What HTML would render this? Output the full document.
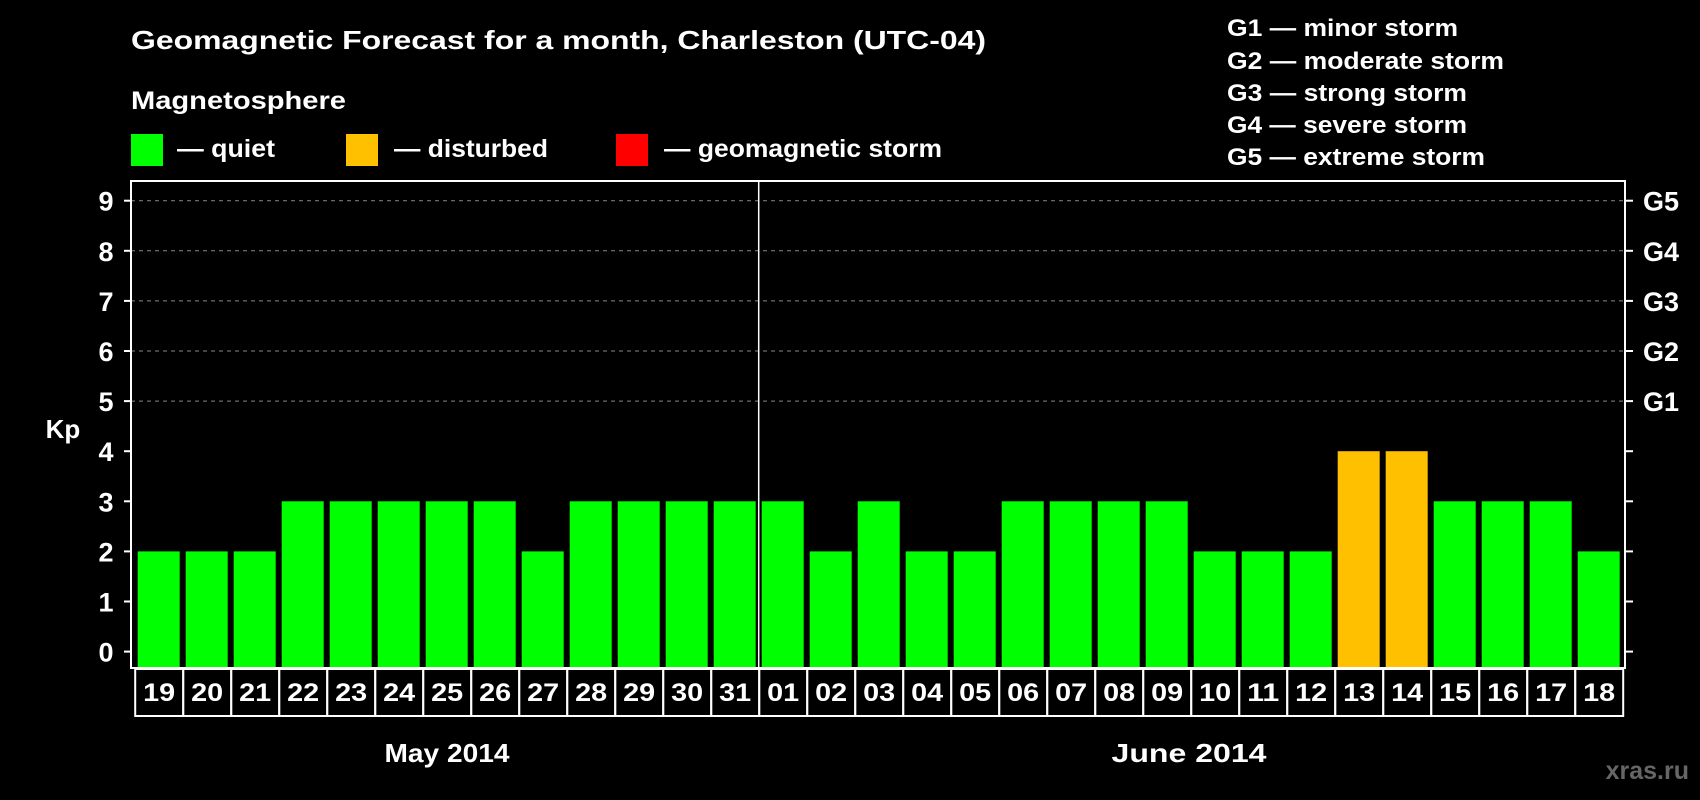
<!DOCTYPE html>
<html><head><meta charset="utf-8"><style>
html,body{margin:0;padding:0;background:#000;}
svg{display:block;font-family:"Liberation Sans",sans-serif;font-weight:bold;}
</style></head><body>
<svg id="chart" width="1700" height="800" viewBox="0 0 1700 800" xmlns="http://www.w3.org/2000/svg">
<rect x="0" y="0" width="1700" height="800" fill="#000"/>
<text x="131" y="49" fill="#fff" font-size="26" textLength="855" lengthAdjust="spacingAndGlyphs">Geomagnetic Forecast for a month, Charleston (UTC-04)</text>
<text x="131" y="109" fill="#fff" font-size="25" textLength="215" lengthAdjust="spacingAndGlyphs">Magnetosphere</text>
<rect x="131" y="134" width="32" height="32" fill="#00ff00"/>
<text x="177" y="157" fill="#fff" font-size="25" textLength="98" lengthAdjust="spacingAndGlyphs">— quiet</text>
<rect x="346" y="134" width="32" height="32" fill="#ffc000"/>
<text x="394" y="157" fill="#fff" font-size="25" textLength="154" lengthAdjust="spacingAndGlyphs">— disturbed</text>
<rect x="616" y="134" width="32" height="32" fill="#ff0000"/>
<text x="664" y="157" fill="#fff" font-size="25" textLength="278" lengthAdjust="spacingAndGlyphs">— geomagnetic storm</text>
<g fill="#fff" font-size="24">
<text x="1227" y="36" textLength="231" lengthAdjust="spacingAndGlyphs">G1 — minor storm</text>
<text x="1227" y="69" textLength="277" lengthAdjust="spacingAndGlyphs">G2 — moderate storm</text>
<text x="1227" y="101" textLength="240" lengthAdjust="spacingAndGlyphs">G3 — strong storm</text>
<text x="1227" y="133" textLength="240" lengthAdjust="spacingAndGlyphs">G4 — severe storm</text>
<text x="1227" y="165" textLength="258" lengthAdjust="spacingAndGlyphs">G5 — extreme storm</text>
</g>
<text x="63" y="438" fill="#fff" font-size="26" text-anchor="middle">Kp</text>
<text x="447" y="762" fill="#fff" font-size="26" text-anchor="middle" textLength="125" lengthAdjust="spacingAndGlyphs">May 2014</text>
<text x="1189" y="762" fill="#fff" font-size="26" text-anchor="middle" textLength="155" lengthAdjust="spacingAndGlyphs">June 2014</text>
<text x="1689" y="779" fill="#666" font-size="25" text-anchor="end">xras.ru</text>
<g id="grid"></g>
<g id="bars"></g>
<g id="axes"></g>
<g id="days"></g>
</svg>
<script>
const days = ["19","20","21","22","23","24","25","26","27","28","29","30","31","01","02","03","04","05","06","07","08","09","10","11","12","13","14","15","16","17","18"];
const kpValues = [2,2,2,3,3,3,3,3,2,3,3,3,3,3,2,3,2,2,3,3,3,3,2,2,2,4,4,3,3,3,2];
const yTicks = [0,1,2,3,4,5,6,7,8,9];
const gLabels = ["G1","G2","G3","G4","G5"];
const gLevels = [5,6,7,8,9];
const monthSplitIndex = 13;

const NS = "http://www.w3.org/2000/svg";
const plotL = 131, plotR = 1625, plotT = 181, plotB = 668;
const barStart = 137.7, pitch = 48, barW = 42;
function yScale(v){ return 651.6 - 50.1 * v; }
function xScale(i){ return barStart + i * pitch; }
function mk(tag, attrs, parent){ const e = document.createElementNS(NS, tag); for (const k in attrs) e.setAttribute(k, attrs[k]); parent.appendChild(e); return e; }
function colorFor(v){ return v >= 5 ? "#ff0000" : (v >= 4 ? "#ffc000" : "#00ff00"); }

const grid = document.getElementById("grid");
gLevels.forEach((lv, i) => {
  const l = mk("line", {x1: plotL, x2: plotR, y1: yScale(lv), y2: yScale(lv), stroke: "#888", "stroke-width": 1, "stroke-dasharray": "4,4"}, grid);
  
  
});

const bars = document.getElementById("bars");
kpValues.forEach((v, i) => {
  const r = mk("rect", {x: xScale(i), y: yScale(v), width: barW, height: plotB - yScale(v), fill: colorFor(v)}, bars);
  
  
});

const axes = document.getElementById("axes");
const frame = mk("rect", {x: plotL, y: plotT, width: plotR - plotL, height: plotB - plotT, fill: "none", stroke: "#fff", "stroke-width": 2}, axes);


const splitX = xScale(monthSplitIndex) - (pitch - barW) / 2;
const sep = mk("line", {x1: splitX, x2: splitX, y1: plotT, y2: plotB, stroke: "#fff", "stroke-width": 1.5}, axes);


yTicks.forEach(t => {
  const y = yScale(t);
  const tl = mk("line", {x1: plotL - 7, x2: plotL, y1: y, y2: y, stroke: "#fff", "stroke-width": 2}, axes);
  
  
  const tr = mk("line", {x1: plotR, x2: plotR + 8, y1: y, y2: y, stroke: "#fff", "stroke-width": 2}, axes);
  
  
  const tx = mk("text", {x: 106, y: y + 10, fill: "#fff", "font-size": 27, "text-anchor": "middle"}, axes);
  tx.textContent = t;
  
  
});
gLabels.forEach((g, i) => {
  const tx = mk("text", {x: 1643, y: yScale(gLevels[i]) + 10, fill: "#fff", "font-size": 27}, axes);
  tx.textContent = g;
  
  
});

const dayG = document.getElementById("days");
days.forEach((d, i) => {
  const bx = xScale(i) - 2.5;
  const r = mk("rect", {x: bx, y: 669, width: pitch, height: 47, fill: "none", stroke: "#fff", "stroke-width": 2}, dayG);
  
  
  const t = mk("text", {x: bx + pitch / 2, y: 701, fill: "#fff", "font-size": 25, "text-anchor": "middle", textLength: 32, lengthAdjust: "spacingAndGlyphs"}, dayG);
  t.textContent = d;
  
  
});
</script>
</body></html>
